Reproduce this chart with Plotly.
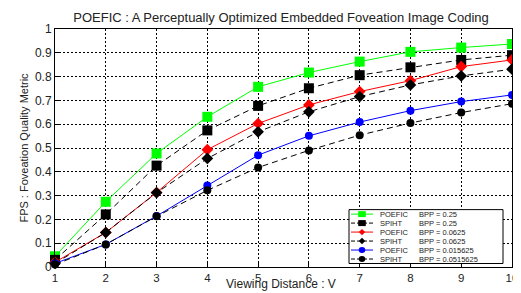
import plotly.graph_objects as go

x = [1, 2, 3, 4, 5, 6, 7, 8, 9, 10]

poefic_025 = [0.045, 0.274, 0.477, 0.631, 0.757, 0.817, 0.863, 0.904, 0.922, 0.937]
spiht_025 = [0.030, 0.221, 0.426, 0.574, 0.677, 0.751, 0.806, 0.839, 0.870, 0.890]
poefic_00625 = [0.020, 0.145, 0.313, 0.493, 0.603, 0.681, 0.737, 0.783, 0.842, 0.870]
spiht_00625 = [0.015, 0.145, 0.312, 0.456, 0.568, 0.652, 0.716, 0.765, 0.803, 0.831]
poefic_0015625 = [0.015, 0.095, 0.214, 0.342, 0.470, 0.551, 0.609, 0.657, 0.695, 0.723]
spiht_00515625 = [0.010, 0.095, 0.213, 0.322, 0.418, 0.490, 0.554, 0.605, 0.649, 0.686]

methods = ["POEFIC", "SPIHT", "POEFIC", "SPIHT", "POEFIC", "SPIHT"]
bpp_labels = ["BPP = 0.25", "BPP = 0.25", "BPP = 0.0625", "BPP = 0.0625",
              "BPP = 0.015625", "BPP = 0.0515625"]
x_ticks = list(range(1, 11))
y_ticks = [0, 0.1, 0.2, 0.3, 0.4, 0.5, 0.6, 0.7, 0.8, 0.9, 1]
y_ticktext = ["0", "0.1", "0.2", "0.3", "0.4", "0.5", "0.6", "0.7", "0.8", "0.9", "1"]

series = [poefic_025, spiht_025, poefic_00625, spiht_00625, poefic_0015625, spiht_00515625]
marker_colors = ["#00ff00", "#000000", "#ff0000", "#000000", "#0000ff", "#000000"]
line_colors = ["#00ff00", "#000000", "#ff0000", "#000000", "#0000ff", "#000000"]
dashes = ["solid", "6px,4px", "solid", "6px,4px", "solid", "6px,4px"]
symbols = ["square", "square", "diamond", "diamond", "circle", "circle"]
sizes = [10, 10, 9, 9, 8, 8]

# page body has an 8px margin; the figure is sized so it fills the 521x293 window
OFF = 8
W, H = 521 - OFF, 293 - OFF
# plot area in window pixels: x 55..512, y 29..267.5
ML, MR, MT, MB = 55 - OFF, 521 - 512, 29 - OFF, 293 - 267.5
PW, PH = W - ML - MR, H - MT - MB


def px(xw):
    return (xw - OFF - ML) / PW


def py(yw):
    return (H - MB - (yw - OFF)) / PH


fig = go.Figure()
for i, ys in enumerate(series):
    fig.add_trace(go.Scatter(
        x=x, y=ys, name=methods[i] + " " + bpp_labels[i], mode="lines+markers",
        line=dict(color=line_colors[i], width=1, dash=dashes[i]),
        marker=dict(color=marker_colors[i], symbol=symbols[i], size=sizes[i], line=dict(width=0)),
        cliponaxis=False, showlegend=False,
    ))

font_fam = "Liberation Sans, Arial, sans-serif"

# manual compact legend (MATLAB style)
shapes = []
annotations = []
shapes.append(dict(type="rect", xref="paper", yref="paper",
                   x0=px(349), x1=px(503), y0=py(264), y1=py(210),
                   line=dict(color="black", width=1), fillcolor="white", layer="above"))
row_y = [214.5, 223.5, 232.5, 241.5, 250.5, 259.5]
for i in range(6):
    yc = row_y[i]
    shapes.append(dict(type="line", xref="paper", yref="paper",
                       x0=px(351), x1=px(373), y0=py(yc), y1=py(yc),
                       line=dict(color=line_colors[i], width=1,
                                 dash="4px,2px" if dashes[i] != "solid" else "solid"),
                       layer="above"))
    c = marker_colors[i]
    s = 3.2
    if symbols[i] == "square":
        shapes.append(dict(type="rect", xref="paper", yref="paper",
                           x0=px(362 - 3.8), x1=px(362 + 3.8), y0=py(yc + 3), y1=py(yc - 3),
                           line=dict(width=0), fillcolor=c, layer="above"))
    elif symbols[i] == "diamond":
        path = "M {} {} L {} {} L {} {} L {} {} Z".format(
            px(362), py(yc - s), px(362 + s), py(yc), px(362), py(yc + s), px(362 - s), py(yc))
        shapes.append(dict(type="path", xref="paper", yref="paper", path=path,
                           line=dict(width=0), fillcolor=c, layer="above"))
    else:
        shapes.append(dict(type="circle", xref="paper", yref="paper",
                           x0=px(362 - 3.3), x1=px(362 + 3.3), y0=py(yc + 3), y1=py(yc - 3),
                           line=dict(width=0), fillcolor=c, layer="above"))
    annotations.append(dict(text=methods[i], xref="paper", yref="paper",
                            x=px(379), y=py(yc), xanchor="left", yanchor="middle",
                            showarrow=False, borderpad=0,
                            font=dict(size=7.5, color="#222222", family=font_fam)))
    annotations.append(dict(text=bpp_labels[i], xref="paper", yref="paper",
                            x=px(418), y=py(yc), xanchor="left", yanchor="middle",
                            showarrow=False, borderpad=0,
                            font=dict(size=7.5, color="#222222", family=font_fam)))

# x-axis title placed just above the bottom edge
annotations.append(dict(text="Viewing Distance : V", xref="paper", yref="paper",
                        x=px(281), y=py(293), xanchor="center", yanchor="bottom",
                        showarrow=False, borderpad=0,
                        font=dict(size=12, color="#222222", family=font_fam)))

fig.update_layout(
    width=W, height=H,
    margin=dict(l=ML, r=MR, t=MT, b=MB, autoexpand=False),
    paper_bgcolor="white", plot_bgcolor="white",
    font=dict(family=font_fam, size=12, color="#222222"),
    title=dict(text="POEFIC : A Perceptually Optimized Embedded Foveation Image Coding",
               x=(281 - OFF) / W, xanchor="center", y=1 - (17 - OFF) / H, yanchor="middle",
               font=dict(size=13, color="#222222")),
    showlegend=False,
    shapes=shapes,
    annotations=annotations,
)
fig.update_xaxes(
    range=[1, 10], tickvals=x_ticks, ticktext=[str(v) for v in x_ticks],
    showgrid=True, gridcolor="black", griddash="2px,2px", gridwidth=1,
    showline=True, linecolor="black", linewidth=1, mirror=True,
    ticks="inside", ticklen=4, tickcolor="black", zeroline=False,
    tickfont=dict(size=11.5), automargin=False,
)
fig.update_yaxes(
    range=[0, 1], tickvals=y_ticks, ticktext=y_ticktext,
    showgrid=True, gridcolor="black", griddash="2px,2px", gridwidth=1,
    showline=True, linecolor="black", linewidth=1, mirror=True,
    ticks="inside", ticklen=4, tickcolor="black", zeroline=False,
    tickfont=dict(size=12), automargin=False,
    title=dict(text="FPS : Foveation Quality Metric", standoff=4,
               font=dict(size=11, family="Liberation Sans Narrow, Liberation Sans, Arial")),
)

fig.write_html("out.html")
